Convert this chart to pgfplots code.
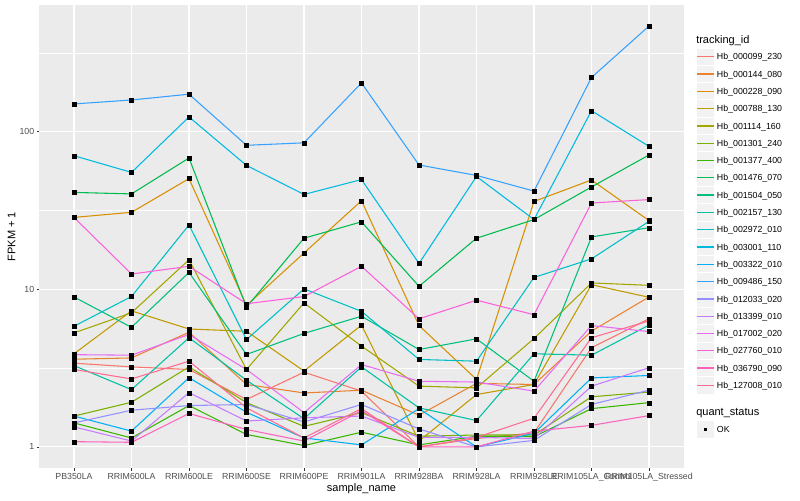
\documentclass[border=0pt]{standalone}
\usepackage{pgfplots}
\pgfplotsset{compat=1.18}
\usepackage{pgfplotstable}
\usepackage{fontspec}
\setmainfont{Liberation Sans}

% ggplot hue palette, 20 levels
\definecolor{c1}{HTML}{F8766D}
\definecolor{c2}{HTML}{EA8331}
\definecolor{c3}{HTML}{D89000}
\definecolor{c4}{HTML}{C09B00}
\definecolor{c5}{HTML}{A3A500}
\definecolor{c6}{HTML}{7CAE00}
\definecolor{c7}{HTML}{39B600}
\definecolor{c8}{HTML}{00BB4E}
\definecolor{c9}{HTML}{00BF7D}
\definecolor{c10}{HTML}{00C1A3}
\definecolor{c11}{HTML}{00BFC4}
\definecolor{c12}{HTML}{00BAE0}
\definecolor{c13}{HTML}{00B0F6}
\definecolor{c14}{HTML}{35A2FF}
\definecolor{c15}{HTML}{9590FF}
\definecolor{c16}{HTML}{C77CFF}
\definecolor{c17}{HTML}{E76BF3}
\definecolor{c18}{HTML}{FA62DB}
\definecolor{c19}{HTML}{FF62BC}
\definecolor{c20}{HTML}{FF6C91}
\definecolor{ggpanel}{HTML}{EBEBEB}
\definecolor{ggkey}{HTML}{F2F2F2}
\definecolor{ggtick}{HTML}{333333}
\definecolor{ggtext}{HTML}{4D4D4D}

% FPKM + 1, one column per tracking_id, one row per sample
\pgfplotstableread{
x s1 s2 s3 s4 s5 s6 s7 s8 s9 s10 s11 s12 s13 s14 s15 s16 s17 s18 s19 s20
0 3.4 3.6 28.6 3.9 5.29 1.57 1.42 41.2 8.94 3.28 5.83 70.4 1.57 150 1.42 1.34 3.85 28.6 1.08 3.1
1 3.22 3.67 30.8 7.3 7.1 1.92 1.14 40.3 5.74 2.31 9.0 55.2 1.26 159 1.71 1.09 3.82 12.5 1.07 2.70
2 3.1 5.34 50.4 5.6 15.4 3.22 1.83 68.1 12.8 4.93 25.6 124 2.75 173 1.83 2.21 5.17 14.0 1.63 3.5
3 2.0 2.49 7.9 5.42 3.1 1.91 1.2 7.7 3.86 2.65 4.8 61.1 1.66 82 1.86 1.46 3.1 8.1 1.29 1.77
4 2.98 2.2 17.0 3.03 8.2 1.35 1.02 21.1 5.25 1.51 10.07 40 1.14 85 1.44 1.53 1.65 9.0 1.09 1.14
5 2.26 2.29 36.5 5.93 4.36 1.65 1.24 26.8 6.75 3.22 7.25 49.7 1.03 204 1.86 1.57 3.33 14.0 1.70 1.75
6 1.0 1.59 5.89 1.09 2.43 1.17 1.03 10.45 4.15 1.77 3.59 14.6 1.75 61.5 1.30 1.15 2.61 6.5 1.0 1.0
7 1.13 2.53 2.68 2.15 2.37 1.19 1.17 21.1 4.85 1.47 3.5 52 1.0 52.8 1.0 1.15 2.58 8.53 1.0 1.15
8 1.23 2.49 36.1 2.49 4.87 1.19 1.16 27.7 2.61 3.9 11.9 27.7 1.22 42 1.10 1.13 2.26 6.9 1.26 1.52
9 4.26 5.43 49.4 10.7 10.98 2.08 1.75 44.6 21.5 3.82 15.6 136 2.74 221 1.86 2.43 5.89 35.3 1.37 4.93
10 6.5 8.94 27.3 8.9 10.6 2.23 1.91 71.2 24.6 5.93 27.0 80.7 2.84 468 2.29 3.18 5.39 37.1 1.58 6.3
}\fpkm

\begin{document}
\begin{tikzpicture}
\begin{axis}[
  at={(0,0)}, anchor=south west,
  scale only axis, width=483pt, height=347.25pt,
  set layers, mark layer=axis foreground,
  axis background/.style={fill=ggpanel},
  axis line style={draw=none},
  xmin=-0.6, xmax=10.6,
  ymode=log, ymin=0.735, ymax=636.8,
  xtick={0,...,10},
  xticklabels={PB350LA,RRIM600LA,RRIM600LE,RRIM600SE,RRIM600PE,RRIM901LA,RRIM928BA,RRIM928LA,RRIM928LE,RRIM105LA\_Control,RRIM105LA\_Stressed},
  ytick={1,10,100}, yticklabels={1,10,100},
  minor ytick={3.16228,31.6228,316.228},
  xmajorgrids, ymajorgrids, yminorgrids,
  major grid style={white, line width=0.8pt},
  minor grid style={white, line width=0.4pt},
  tick align=outside, xtick pos=bottom, ytick pos=left,
  major tick length=2.06pt, minor tick length=0pt,
  tick style={ggtick, line width=0.4pt},
  ticklabel style={font=\fontsize{6.6}{7.9}\selectfont, text=ggtext, inner sep=0pt},
  xticklabel style={anchor=north, yshift=-1.65pt},
  yticklabel style={anchor=east, xshift=-1.65pt},
  every axis x label/.style={at={(axis description cs:0.5,-0.04536)}, anchor=center},
  every axis y label/.style={at={(axis description cs:-0.0435,0.5)}, rotate=90, anchor=center},
  label style={font=\fontsize{8.25}{9.9}\selectfont},
  xlabel={sample\_name},
  ylabel={FPKM + 1},
  every axis plot/.append style={line width=0.8pt, mark=square*, mark size=1.5pt,
    mark options={draw=black, fill=black, line width=0.2pt, solid}},
]
\addplot[c1] table[x=x,y=s1]{\fpkm};
\addplot[c2] table[x=x,y=s2]{\fpkm};
\addplot[c3] table[x=x,y=s3]{\fpkm};
\addplot[c4] table[x=x,y=s4]{\fpkm};
\addplot[c5] table[x=x,y=s5]{\fpkm};
\addplot[c6] table[x=x,y=s6]{\fpkm};
\addplot[c7] table[x=x,y=s7]{\fpkm};
\addplot[c8] table[x=x,y=s8]{\fpkm};
\addplot[c9] table[x=x,y=s9]{\fpkm};
\addplot[c10] table[x=x,y=s10]{\fpkm};
\addplot[c11] table[x=x,y=s11]{\fpkm};
\addplot[c12] table[x=x,y=s12]{\fpkm};
\addplot[c13] table[x=x,y=s13]{\fpkm};
\addplot[c14] table[x=x,y=s14]{\fpkm};
\addplot[c15] table[x=x,y=s15]{\fpkm};
\addplot[c16] table[x=x,y=s16]{\fpkm};
\addplot[c17] table[x=x,y=s17]{\fpkm};
\addplot[c18] table[x=x,y=s18]{\fpkm};
\addplot[c19] table[x=x,y=s19]{\fpkm};
\addplot[c20] table[x=x,y=s20]{\fpkm};
\end{axis}
% legend: tracking_id
\node[anchor=base west, inner sep=0pt, font=\fontsize{8.25}{9.9}\selectfont] at (492.375pt,318pt) {tracking\_id};
\foreach \n [count=\i] in {Hb\_000099\_230,Hb\_000144\_080,Hb\_000228\_090,Hb\_000788\_130,
  Hb\_001114\_160,Hb\_001301\_240,Hb\_001377\_400,Hb\_001476\_070,Hb\_001504\_050,
  Hb\_002157\_130,Hb\_002972\_010,Hb\_003001\_110,Hb\_003322\_010,Hb\_009486\_150,
  Hb\_012033\_020,Hb\_013399\_010,Hb\_017002\_020,Hb\_027760\_010,Hb\_036790\_090,
  Hb\_127008\_010}{
  \pgfmathsetmacro{\yy}{308.475-(\i-1)*12.975}
  \fill[ggkey] (493.4pt,\yy pt-6.09pt) rectangle (505.575pt,\yy pt+6.09pt);
  \draw[c\i, line width=1pt] (493.4pt,\yy pt) -- (505.575pt,\yy pt);
  \node[anchor=west, inner sep=0pt, text depth=0pt, font=\fontsize{6.6}{7.9}\selectfont] at (507.9pt,\yy pt) {\n};
}
% legend: quant_status
\node[anchor=base west, inner sep=0pt, font=\fontsize{8.25}{9.9}\selectfont] at (492.375pt,39.375pt) {quant\_status};
\fill[ggkey] (493.4pt,22.79pt) rectangle (505.575pt,34.965pt);
\fill[black] (498.19pt,27.575pt) rectangle (500.79pt,30.175pt);
\node[anchor=west, inner sep=0pt, text depth=0pt, font=\fontsize{6.6}{7.9}\selectfont] at (507.9pt,28.875pt) {OK};
\pgfresetboundingbox
\path[use as bounding box] (-29.625pt,-24pt) rectangle (570.375pt,351pt);
\end{tikzpicture}
\end{document}
